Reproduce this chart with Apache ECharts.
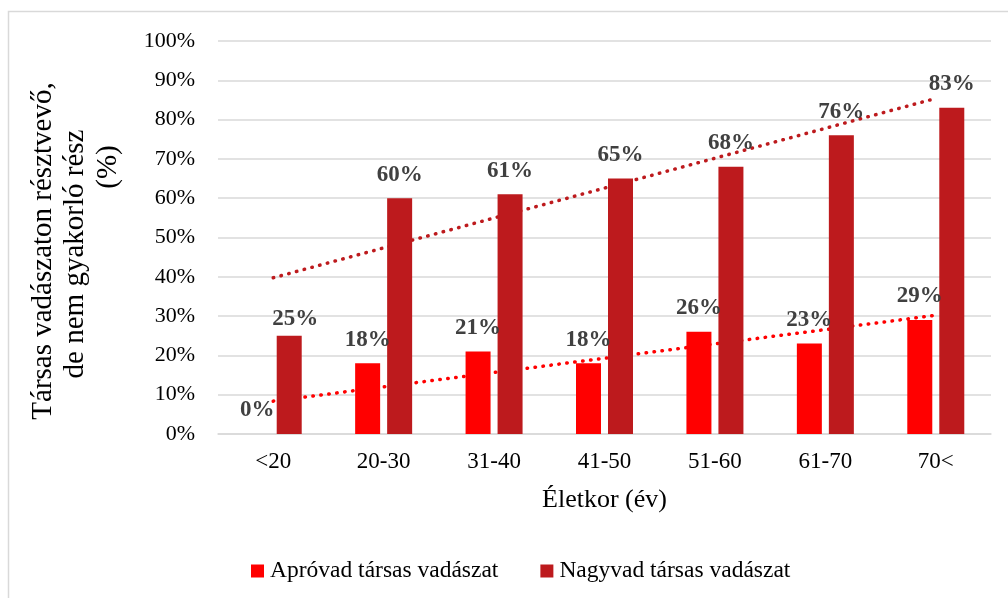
<!DOCTYPE html>
<html>
<head>
<meta charset="utf-8">
<script src="https://cdn.jsdelivr.net/npm/echarts@6/dist/echarts.min.js"></script>
<style>
  html, body { margin: 0; padding: 0; background: #fff; }
  #chart { width: 1008px; height: 598px; }
</style>
</head>
<body>
<div id="chart"></div>
<script>
var categories = ['<20', '20-30', '31-40', '41-50', '51-60', '61-70', '70<'];
var aprovad = [0, 18, 21, 18, 26, 23, 29];
var nagyvad = [25, 60, 61, 65, 68, 76, 83];
var seriesNames = ['Apróvad társas vadászat', 'Nagyvad társas vadászat'];

var FONT = "'Liberation Serif', 'Times New Roman', serif";

/* lineáris trendvonal, mint Excelben */
var trend = function (values) {
    var n = values.length, sx = 0, sy = 0, sxy = 0, sxx = 0;
    values.forEach(function (y, x) {
        sx += x; sy += y; sxy += x * y; sxx += x * x;
    });
    var slope = (n * sxy - sx * sy) / (n * sxx - sx * sx);
    var icpt = (sy - slope * sx) / n;
    return values.map(function (y, x) { return icpt + slope * x; });
};

var barLabel = {
    show: true,
    position: 'top',
    distance: 12,
    formatter: '{c}%',
    fontFamily: FONT,
    fontSize: 23,
    fontWeight: 'bold',
    color: '#404040'
};

var nagyData = nagyvad.map(function (v, i) {
    // az első felirat közelebb ül az oszlophoz, kicsit jobbra
    return i === 0 ? { value: v, label: { distance: 5, offset: [6, 0] } } : v;
});

var titleStyle = function (txt) {
    return { text: txt, font: '29px ' + FONT, fill: '#000', textAlign: 'center', textVerticalAlign: 'middle' };
};

var myChart = echarts.init(document.getElementById('chart'));
var option = {
    animation: false,
    graphic: [
        {
            type: 'rect', silent: true,
            shape: { x: 8.5, y: 11.5, width: 1200, height: 800 },
            style: { fill: 'none', stroke: '#d9d9d9', lineWidth: 1.5 }
        },
        { type: 'text', x: 43, y: 251, rotation: Math.PI / 2, style: titleStyle('Társas vadászaton résztvevő,') },
        { type: 'text', x: 75, y: 254, rotation: Math.PI / 2, style: titleStyle('de nem gyakorló rész') },
        { type: 'text', x: 108, y: 167, rotation: Math.PI / 2, style: titleStyle('(%)') }
    ],
    grid: { left: 218, right: 17, top: 41, bottom: 164 },
    legend: {
        data: seriesNames,
        left: 246,
        top: 554,
        icon: 'rect',
        itemWidth: 13,
        itemHeight: 13,
        itemGap: 42,
        textStyle: { fontFamily: FONT, fontSize: 23.5, color: '#000', padding: [0, 0, 0, 1] }
    },
    xAxis: {
        type: 'category',
        data: categories,
        name: 'Életkor (év)',
        nameLocation: 'middle',
        nameGap: 53,
        nameTextStyle: { fontFamily: FONT, fontSize: 26, color: '#000' },
        axisLine: { lineStyle: { color: '#d9d9d9', width: 1.5 } },
        axisTick: { show: false },
        axisLabel: { margin: 16, fontFamily: FONT, fontSize: 23, color: '#000' }
    },
    yAxis: {
        type: 'value',
        min: 0,
        max: 100,
        interval: 10,
        axisLine: { show: false },
        axisTick: { show: false },
        splitLine: { lineStyle: { color: '#d9d9d9', width: 1.5 } },
        axisLabel: { margin: 23, formatter: '{value}%', fontFamily: FONT, fontSize: 22, color: '#000' }
    },
    series: [
        {
            name: seriesNames[0],
            type: 'bar',
            barWidth: 25,
            barGap: '28%',
            z: 3,
            itemStyle: { color: '#ff0000' },
            label: barLabel,
            data: aprovad
        },
        {
            name: seriesNames[1],
            type: 'bar',
            barWidth: 25,
            z: 3,
            itemStyle: { color: '#bd1a1d' },
            label: barLabel,
            data: nagyData
        },
        {
            name: 'trend1',
            type: 'line',
            z: 1,
            symbol: 'none',
            silent: true,
            lineStyle: { color: '#ff0000', width: 3.5, type: [0.5, 7.5], cap: 'round' },
            data: trend(aprovad)
        },
        {
            name: 'trend2',
            type: 'line',
            z: 1,
            symbol: 'none',
            silent: true,
            lineStyle: { color: '#bd1a1d', width: 3.5, type: [0.5, 7.5], cap: 'round' },
            data: trend(nagyvad)
        }
    ]
};
myChart.setOption(option);
</script>
</body>
</html>
